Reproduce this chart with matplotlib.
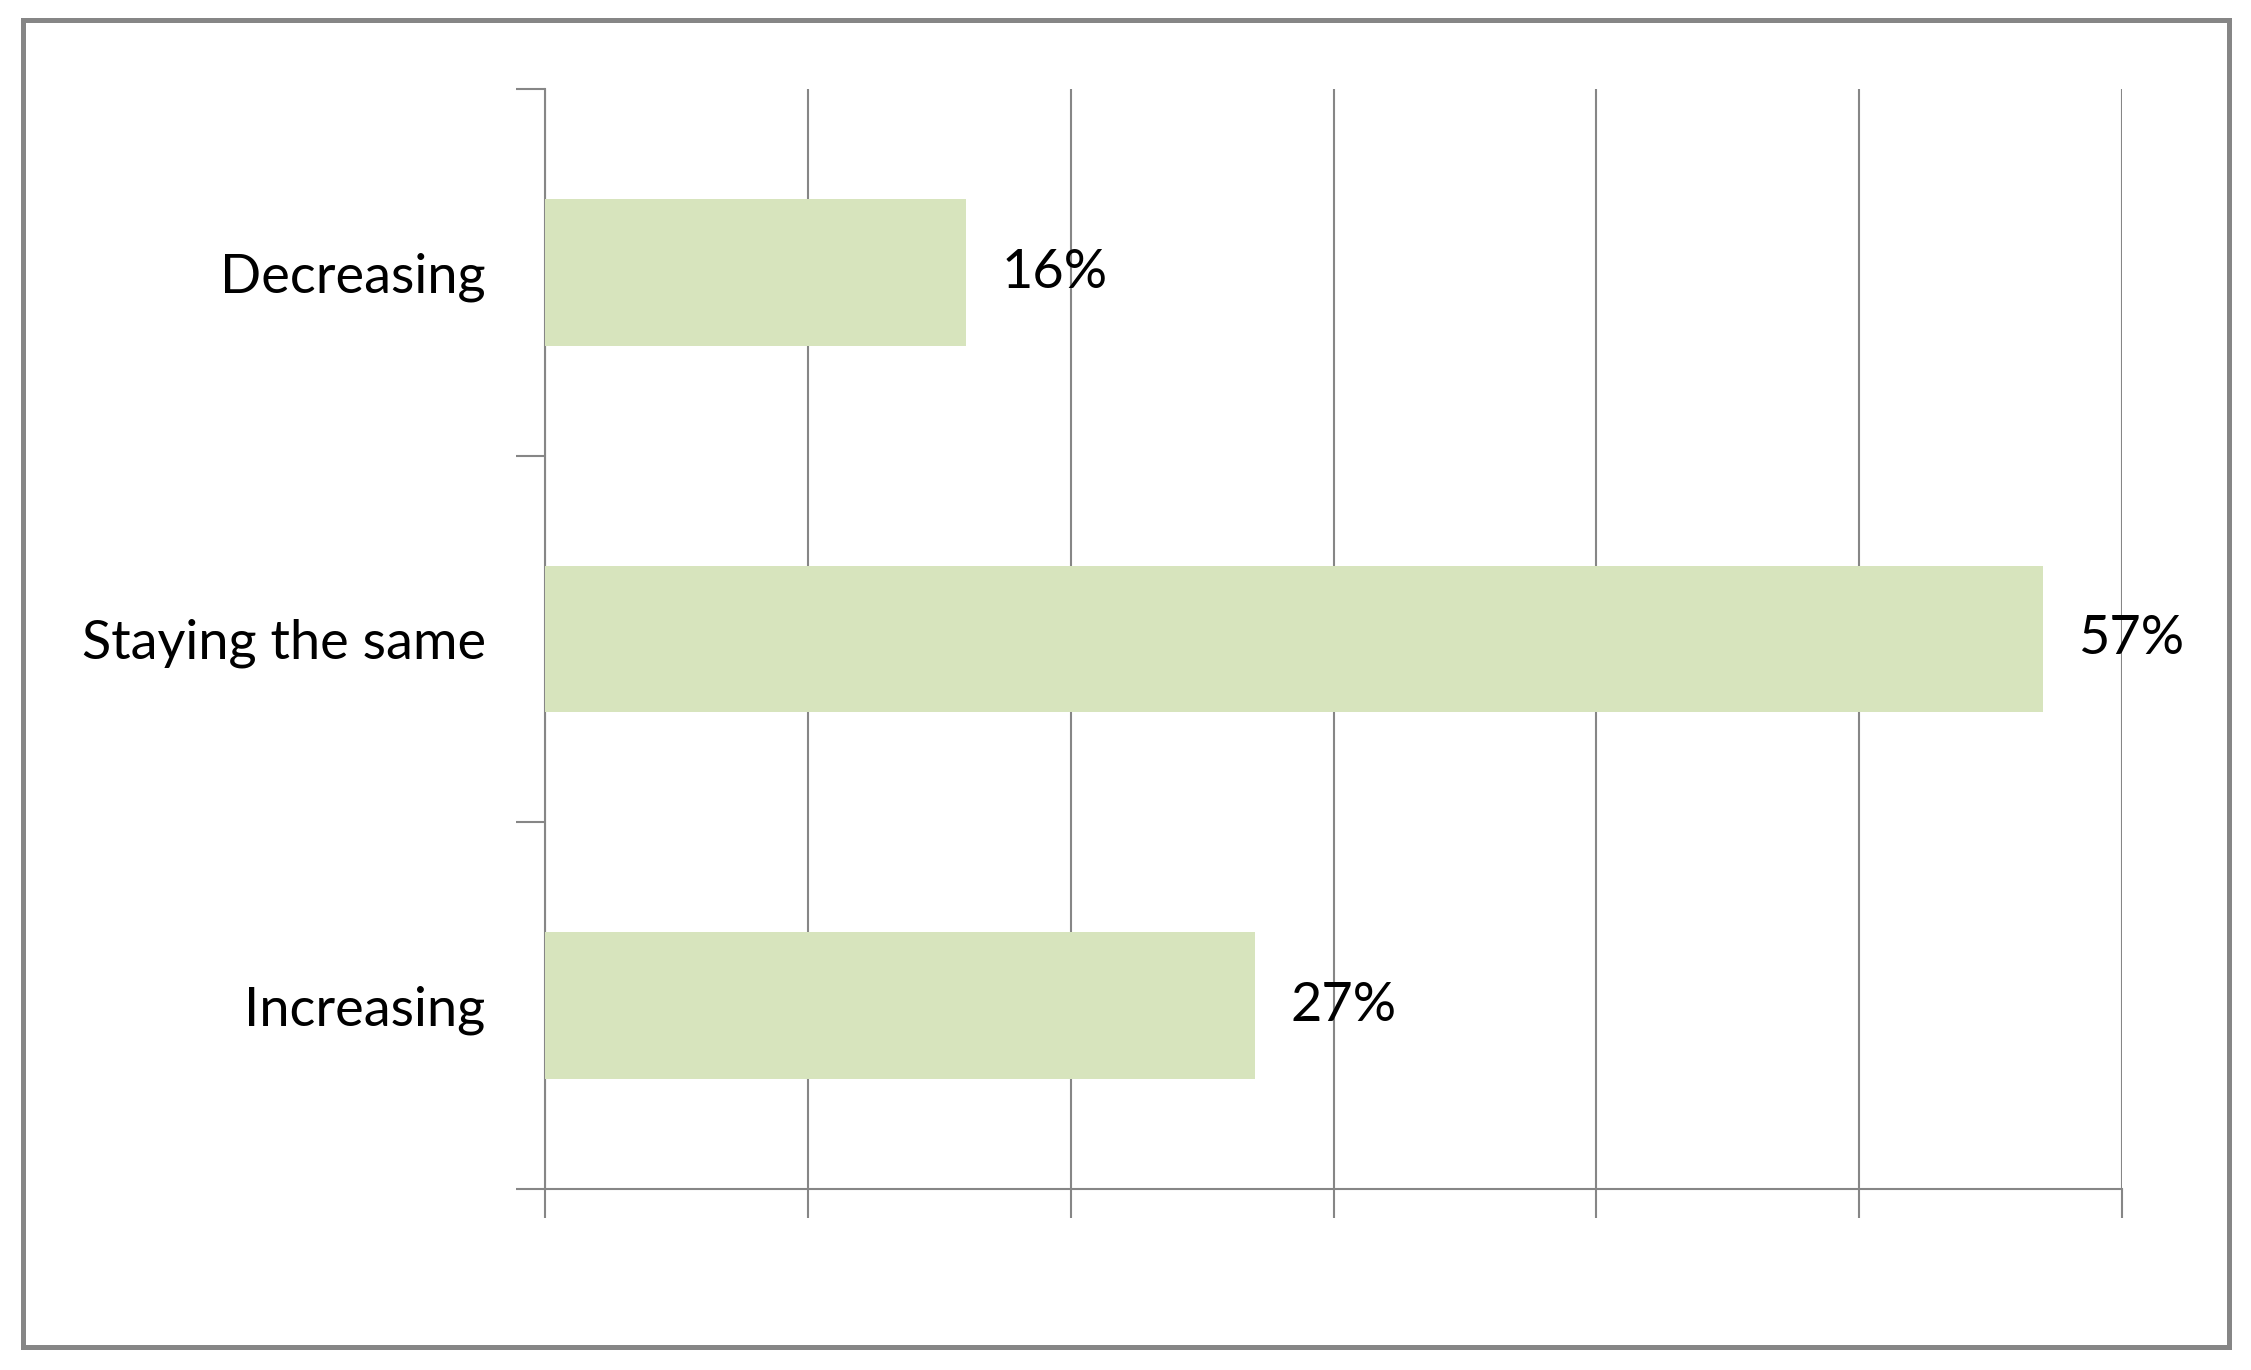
import matplotlib.pyplot as plt
from matplotlib.patches import Rectangle

# data (bottom to top)
categories = ['Increasing', 'Staying the same', 'Decreasing']
values = [27, 57, 16]
labels = ['27%', '57%', '16%']

plt.rcParams['font.family'] = ['Lato', 'DejaVu Sans']

fig = plt.figure(figsize=(22.51, 13.70), dpi=100)
ax = fig.add_axes([0.2423, 0.1323, 0.7003, 0.8027])

pos = range(len(categories))
ax.barh(pos, values, height=0.4, color='#D7E4BD', zorder=3)

for p, v, lab in zip(pos, values, labels):
    ax.text(v + 1.35, p, lab, va='center', ha='left', fontsize=39, color='black', zorder=4)

ax.set_xlim(0, 60)
ax.set_ylim(-0.5, 2.5)

grey = '#868686'
ax.set_xticks(range(0, 61, 10))
ax.set_xticklabels([])
ax.set_yticks([-0.5, 0.5, 1.5, 2.5])
ax.set_yticklabels([])
ax.set_yticks(list(pos), minor=True)
ax.set_yticklabels(categories, minor=True, fontsize=39)
ax.tick_params(axis='y', which='minor', length=0, pad=43)
ax.tick_params(axis='both', which='major', direction='out', length=21, width=1.5, color=grey)

ax.grid(axis='x', color=grey, linewidth=1.5, zorder=1)
ax.spines['top'].set_visible(False)
ax.spines['right'].set_visible(False)
ax.spines['left'].set_color(grey)
ax.spines['bottom'].set_color(grey)
ax.spines['left'].set_linewidth(1.5)
ax.spines['bottom'].set_linewidth(1.5)

# outer chart border
fig.patches.append(Rectangle((0.0102, 0.0168), 0.98, 0.9686, transform=fig.transFigure,
                             fill=False, edgecolor=grey, linewidth=3.6))

fig.savefig('out.png', dpi=100)
